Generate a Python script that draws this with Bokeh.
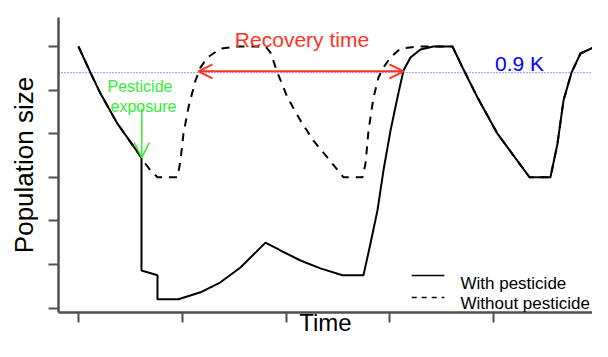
from bokeh.plotting import figure
from bokeh.models import Range1d, FixedTicker, Label, Arrow, OpenHead, Span
from bokeh.embed import file_html
from bokeh.resources import INLINE

# ---- data ----
time_ticks = [0, 20, 40, 60, 80, 100]
pop_ticks = [0, 1, 2, 3, 4, 5, 6]
threshold = 5.4  # 0.9 K (K = 6)

time_with = [0, 2.31, 4.24, 7.51, 9.83, 12.14, 12.14, 15.22, 15.22, 19.27, 23.51,
             27.36, 31.21, 36.03, 38.92, 42.77, 46.61, 50.87, 54.91, 56.26, 57.61,
             58.77, 60.12, 61.46, 62.62, 63.97, 65.90, 68.40, 72.06, 73.99, 76.88,
             80.73, 86.90, 90.94, 92.29, 93.45, 94.99, 96.72, 99.23, 102.5, 108]
pop_with = [6.00, 5.40, 4.92, 4.23, 3.84, 3.45, 0.86, 0.75, 0.20, 0.20, 0.36,
            0.59, 0.93, 1.50, 1.32, 1.09, 0.91, 0.75, 0.75, 1.48, 2.24,
            3.16, 4.07, 4.83, 5.45, 5.75, 5.93, 6.00, 6.00, 5.52, 4.83,
            4.00, 3.00, 3.00, 3.77, 4.76, 5.40, 5.84, 5.98, 6.00, 6.00]

time_without = [0, 2.31, 4.24, 7.51, 9.83, 12.14, 12.91, 13.87, 15.22, 19.08,
                19.65, 20.23, 21.19, 22.54, 23.51, 24.86, 27.36, 30.64, 36.03, 37.00,
                38.34, 40.27, 42.77, 45.28, 47.98, 51.06, 54.72, 55.30, 55.88, 56.84,
                57.80, 58.77, 60.12, 62.04, 65.32, 72.06, 73.99, 76.88, 80.73, 86.90,
                90.94, 92.29, 93.45, 94.99, 96.72, 99.23, 102.5, 108]
pop_without = [6.00, 5.40, 4.92, 4.23, 3.84, 3.45, 3.31, 3.16, 3.00, 3.00,
               3.38, 4.00, 4.60, 5.22, 5.52, 5.75, 5.95, 6.00, 6.00, 5.86,
               5.40, 4.83, 4.30, 3.84, 3.45, 3.00, 3.00, 3.31, 4.07, 4.83,
               5.29, 5.52, 5.75, 5.95, 6.00, 6.00, 5.52, 4.83, 4.00, 3.00,
               3.00, 3.77, 4.76, 5.40, 5.84, 5.98, 6.00, 6.00]

exposure_time = 12.14
exposure_pop = 3.45
recovery_start = 23.12
recovery_end = 62.62

FONT = "Liberation Sans"
AXIS_COL = "#505050"
RED = "#ff3322"
GREEN = "#33ee33"
BLUE = "#0000ff"

p = figure(width=592, height=341,
           x_range=Range1d(-3.85, 99.04), y_range=Range1d(-0.103, 6.666),
           output_backend="svg", toolbar_location=None,
           min_border_left=58, min_border_right=0,
           min_border_top=17, min_border_bottom=29)
p.outline_line_color = None
p.xgrid.visible = False
p.ygrid.visible = False
p.background_fill_color = "white"
p.border_fill_color = "white"

for ax, ticks in ((p.xaxis, time_ticks), (p.yaxis, pop_ticks)):
    ax.ticker = FixedTicker(ticks=ticks)
    ax.major_label_text_font_size = "0px"
    ax.major_label_text_alpha = 0
    ax.major_label_standoff = 0
    ax.minor_tick_line_color = None
    ax.major_tick_in = 0
    ax.major_tick_out = 10
    ax.major_tick_line_color = AXIS_COL
    ax.major_tick_line_width = 2
    ax.axis_line_color = AXIS_COL
    ax.axis_line_width = 2.5
    ax.axis_label_text_font = FONT
    ax.axis_label_text_font_style = "normal"
    ax.axis_label_text_color = "black"

p.xaxis.axis_label = "Time"
p.xaxis.axis_label_text_font_size = "24px"
p.xaxis.axis_label_standoff = -14
p.yaxis.axis_label = "Population size"
p.yaxis.axis_label_text_font_size = "26px"
p.yaxis.axis_label_standoff = 10

# 0.9 K threshold
p.add_layout(Span(location=threshold, dimension="width", line_color=BLUE,
                  line_width=1, line_dash="1 2", line_alpha=0.8))

# series
p.line(time_without, pop_without, line_color="black", line_width=2, line_dash="8 7")
p.line(time_with, pop_with, line_color="black", line_width=2)

# legend (custom)
p.line([64.2, 70.5], [0.746, 0.746], line_color="black", line_width=1.5)
p.line([64.2, 70.5], [0.241, 0.241], line_color="black", line_width=1.5, line_dash="5 5")
p.add_layout(Label(x=73.6, y=0.562, text="With pesticide", text_font=FONT,
                   text_font_size="17px", text_color="black", text_baseline="alphabetic"))
p.add_layout(Label(x=73.6, y=0.103, text="Without pesticide", text_font=FONT,
                   text_font_size="17px", text_color="black", text_baseline="alphabetic"))

# recovery arrow
p.add_layout(Arrow(x_start=recovery_start, y_start=threshold + 0.03,
                   x_end=recovery_end, y_end=threshold + 0.03,
                   line_color=RED, line_width=2,
                   start=OpenHead(size=14, line_color=RED, line_width=2),
                   end=OpenHead(size=14, line_color=RED, line_width=2)))
p.add_layout(Label(x=43.06, y=6.15, text="Recovery time", text_font=FONT,
                   text_font_size="21px", text_color=RED, text_align="center",
                   text_baseline="alphabetic"))

# threshold label
p.add_layout(Label(x=84.97, y=5.62, text="0.9 K", text_font=FONT,
                   text_font_size="21px", text_color=BLUE, text_align="center",
                   text_baseline="alphabetic"))

# pesticide exposure
p.add_layout(Label(x=11.85, y=5.08, text="Pesticide", text_font=FONT,
                   text_font_size="16px", text_color=GREEN, text_align="center",
                   text_baseline="alphabetic"))
p.add_layout(Label(x=12.52, y=4.62, text="exposure", text_font=FONT,
                   text_font_size="16px", text_color=GREEN, text_align="center",
                   text_baseline="alphabetic"))
p.add_layout(Arrow(x_start=exposure_time + 0.05, y_start=4.58,
                   x_end=exposure_time + 0.05, y_end=exposure_pop,
                   line_color=GREEN, line_width=1.5,
                   end=OpenHead(size=15, line_color=GREEN, line_width=1.5)))

open("out.html", "w").write(file_html(p, INLINE))
